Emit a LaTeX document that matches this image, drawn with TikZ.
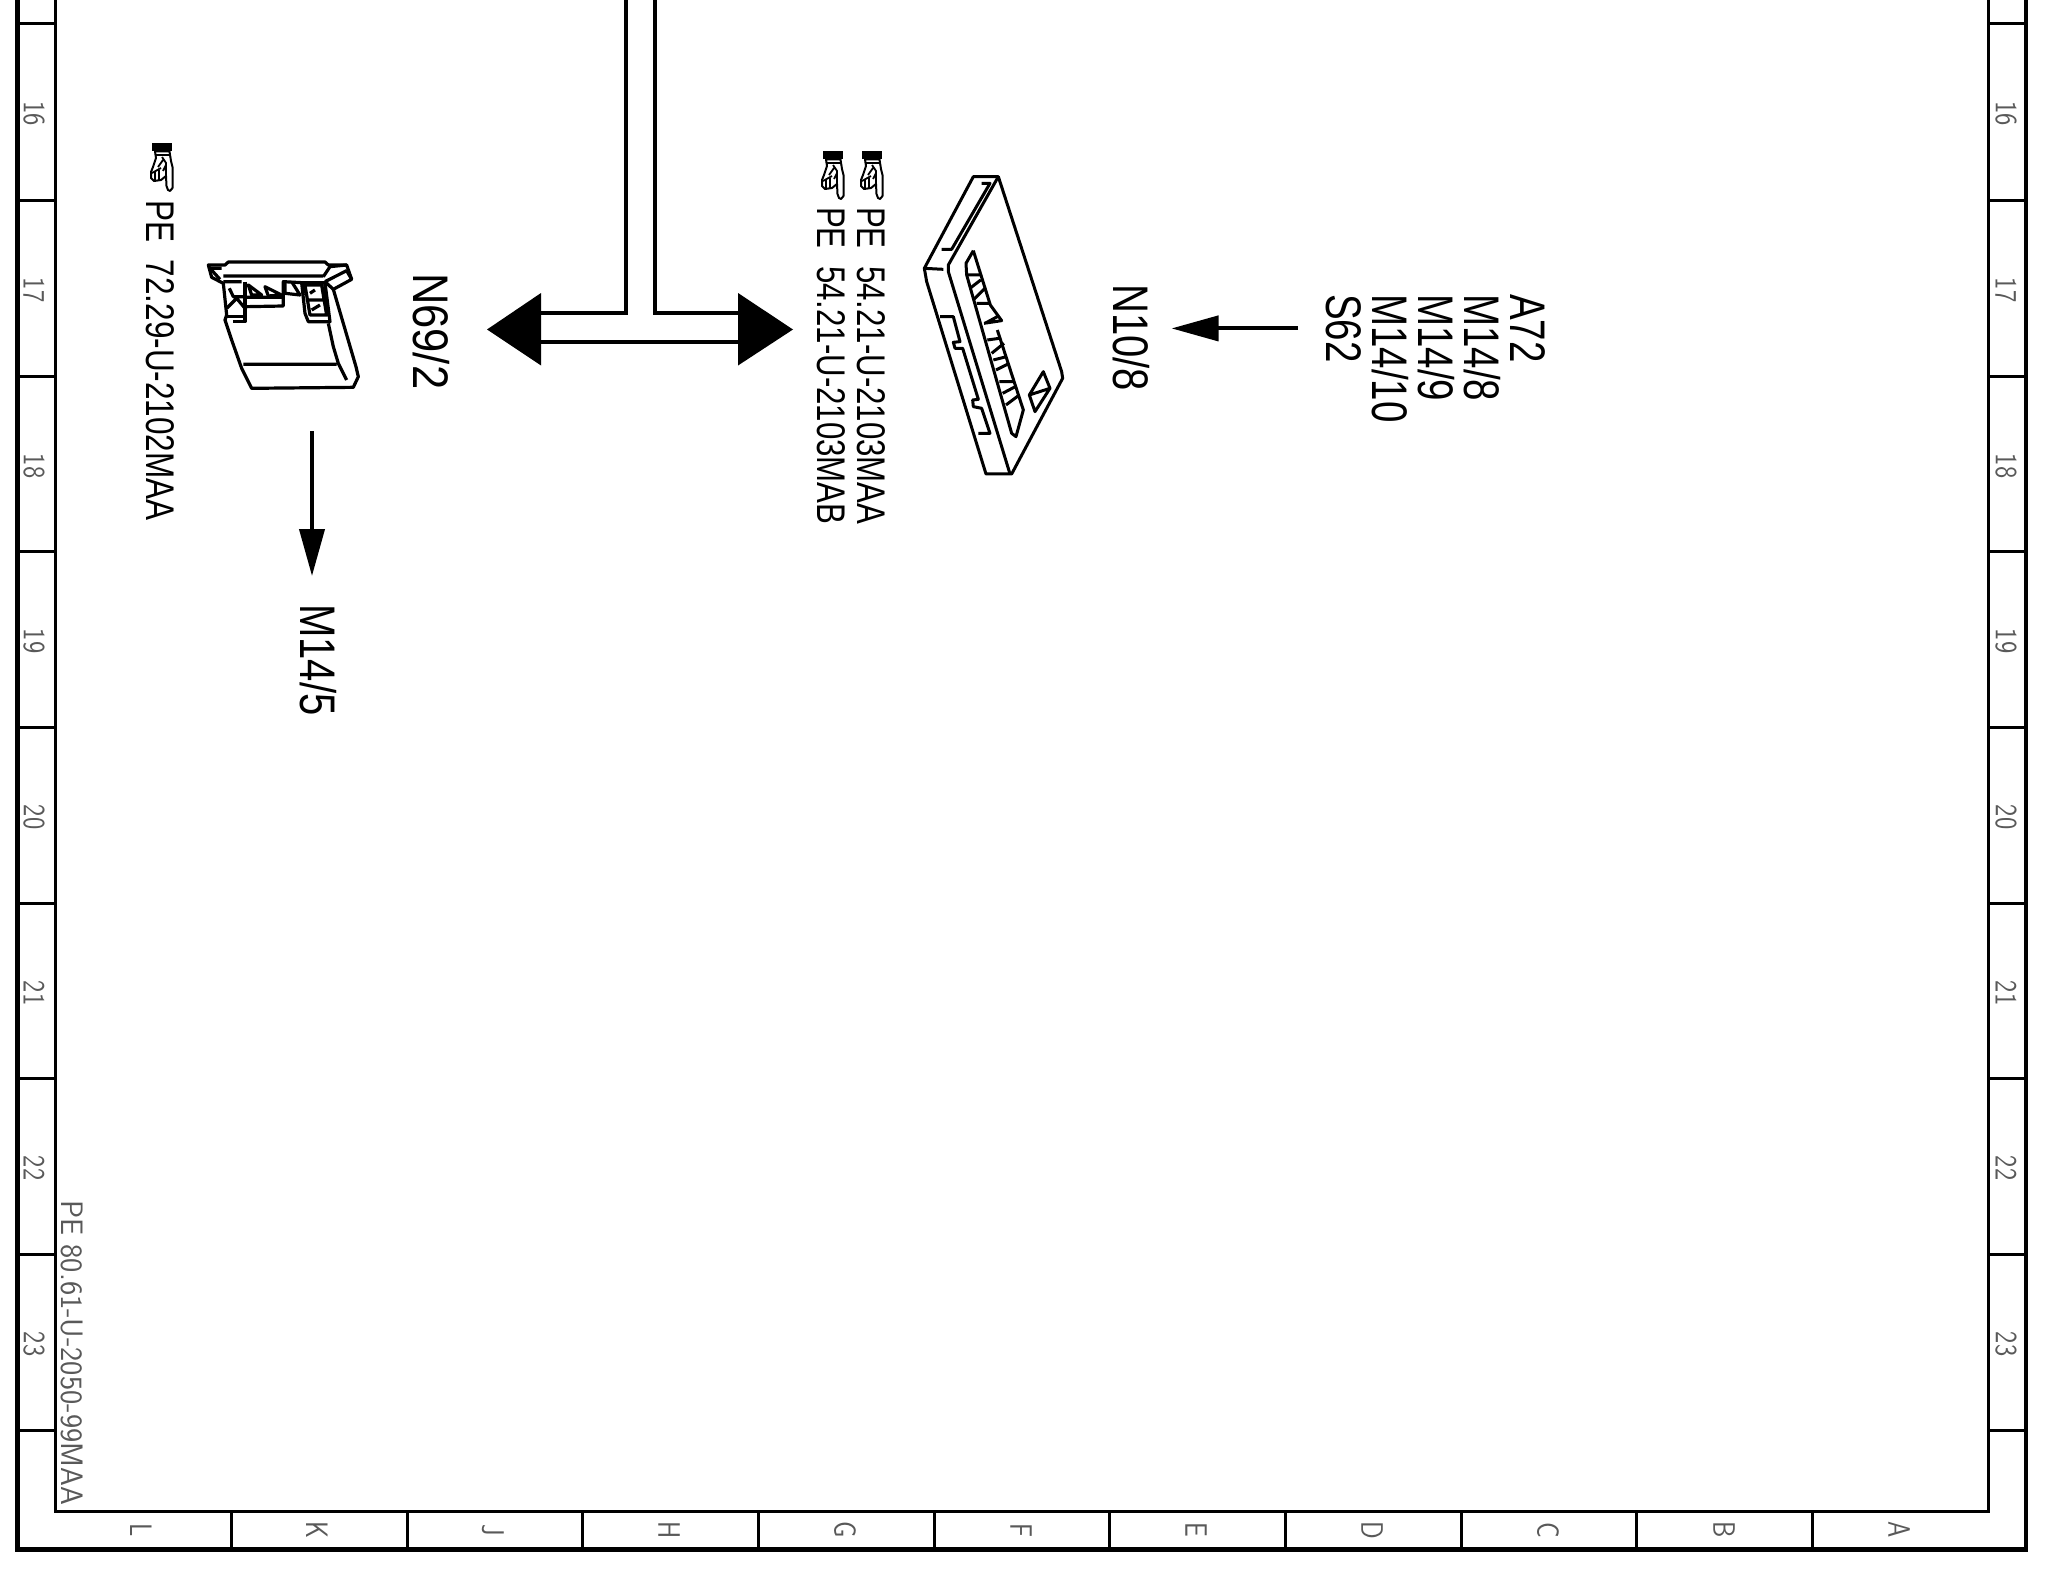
\documentclass[tikz,border=0pt]{standalone}
\usepackage{fontspec}
\setmainfont{Liberation Sans}
\usetikzlibrary{arrows.meta}
\tikzset{
  gridnum/.style={inner sep=0pt, rotate=-90, xscale=0.84, text=black!65,
    font=\sffamily\fontsize{31}{34}\selectfont},
  partlabel/.style={inner sep=0pt, anchor=west, rotate=-90, xscale=0.77,
    font=\fontsize{50}{55}\selectfont},
  pelabel/.style={inner sep=0pt, anchor=west, rotate=-90, xscale=0.78,
    font=\fontsize{40}{44}\selectfont},
  flowarrow/.style={line width=4pt, -{Triangle[length=47pt,width=25pt]}},
  handmark/.pic={
    \fill (-10.3,0) rectangle (10.3,7.7);
    \draw[line width=2pt, fill=white, line join=round] (-7,8.5) -- (7.5,8.5) -- (9,18) -- (10.5,24)
      -- (10.5,45) -- (8,48) -- (6,47) -- (4.5,43) -- (4,33) -- (-1,37) -- (-8,38)
      -- (-11,35) -- (-11,29) -- (-9,24) -- (-6,15) -- cycle;
    \draw[line width=1.8pt] (-6,12) -- (8,12) (-10,30) -- (-1,25) (-7,37) -- (-7,29)
      (-3,37) -- (-3,27) (4,33) -- (4,20) -- (0,14) (1,28) -- (4,22) (-4,24) -- (1,17);
  }
}

\begin{document}
\begin{tikzpicture}[x=1pt, y=-1pt]
\useasboundingbox (0,0) rectangle (2048,1576);

% frame
\draw[line width=4.5pt] (17.6,-5) -- (17.6,1549.5) -- (2026,1549.5) -- (2026,-5);
\draw[line width=3pt] (55,-5) -- (55,1511) -- (1988,1511) -- (1988,-5);
\draw[line width=3pt] (17.6,24) -- (55,24) (17.6,200) -- (55,200) (17.6,376) -- (55,376)
  (17.6,551) -- (55,551) (17.6,727) -- (55,727) (17.6,903) -- (55,903)
  (17.6,1078) -- (55,1078) (17.6,1254) -- (55,1254) (17.6,1430) -- (55,1430);
\draw[line width=3pt] (1988,24) -- (2026,24) (1988,200) -- (2026,200) (1988,376) -- (2026,376)
  (1988,551) -- (2026,551) (1988,727) -- (2026,727) (1988,903) -- (2026,903)
  (1988,1078) -- (2026,1078) (1988,1254) -- (2026,1254) (1988,1430) -- (2026,1430);
\draw[line width=3pt] (231,1511) -- (231,1549) (407,1511) -- (407,1549) (582,1511) -- (582,1549)
  (758,1511) -- (758,1549) (934,1511) -- (934,1549) (1109,1511) -- (1109,1549)
  (1285,1511) -- (1285,1549) (1461,1511) -- (1461,1549) (1636,1511) -- (1636,1549)
  (1812,1511) -- (1812,1549);

\node[gridnum] (rowl16) at (34,114) {16};
\node[gridnum] (rowl17) at (34,290) {17};
\node[gridnum] (rowl18) at (34,466) {18};
\node[gridnum] (rowl19) at (34,641) {19};
\node[gridnum] (rowl20) at (34,817) {20};
\node[gridnum] (rowl21) at (34,993) {21};
\node[gridnum] (rowl22) at (34,1168) {22};
\node[gridnum] (rowl23) at (34,1344) {23};
\node[gridnum] (rowr16) at (2006,114) {16};
\node[gridnum] (rowr17) at (2006,290) {17};
\node[gridnum] (rowr18) at (2006,466) {18};
\node[gridnum] (rowr19) at (2006,641) {19};
\node[gridnum] (rowr20) at (2006,817) {20};
\node[gridnum] (rowr21) at (2006,993) {21};
\node[gridnum] (rowr22) at (2006,1168) {22};
\node[gridnum] (rowr23) at (2006,1344) {23};

\node[gridnum] (colL) at (141,1530) {L};
\node[gridnum] (colK) at (317,1530) {K};
\node[gridnum] (colJ) at (493,1530) {J};
\node[gridnum] (colH) at (669,1530) {H};
\node[gridnum] (colG) at (845,1530) {G};
\node[gridnum] (colF) at (1021,1530) {F};
\node[gridnum] (colE) at (1196,1530) {E};
\node[gridnum] (colD) at (1372,1530) {D};
\node[gridnum] (colC) at (1548,1530) {C};
\node[gridnum] (colB) at (1724,1530) {B};
\node[gridnum] (colA) at (1899,1530) {A};

\node[gridnum, anchor=west, xscale=1.16] (drawno) at (72,1200) {PE 80.61-U-2050-99MAA};

% labels
\node[partlabel] (a72) at (1528,294) {A72};
\node[partlabel] (m148) at (1482,294) {M14/8};
\node[partlabel] (m149) at (1436,294) {M14/9};
\node[partlabel] (m1410) at (1390,294) {M14/10};
\node[partlabel] (s62) at (1344,294) {S62};
\node[partlabel, xscale=1.04] (n108) at (1131,284) {N10/8};
\node[partlabel, xscale=1.13] (n692) at (431,273) {N69/2};
\node[partlabel, xscale=1.04] (m145) at (318,604) {M14/5};

\node[pelabel, xscale=1.01] (pe72) at (160.5,200) {PE\ \ 72.29-U-2102MAA};
\node[pelabel] (pe54a) at (871,207) {PE\ \ 54.21-U-2103MAA};
\node[pelabel] (pe54b) at (831.5,207) {PE\ \ 54.21-U-2103MAB};
\pic at (162,143) {handmark};
\pic at (872,151) {handmark};
\pic at (833,151) {handmark};

% arrows
\coordinate (n692pin) at (312,431);
\draw[flowarrow, shorten >=28pt] (n692pin) -- (n692pin |- m145.west);
\draw[flowarrow, shorten <=28pt, shorten >=22pt] (s62.south) -- (s62.south -| n108.north);

% double line with two heads
\coordinate (tleft) at (487,329.5);
\coordinate (tright) at (793,329.5);
\draw[line width=4pt] (626,-5) -- (626,313) -- (541,313)
  (655,-5) -- (655,313) -- (738,313)
  (541,342) -- (738,342);
\fill (tleft) -- (541,293) -- (541,365.5) -- cycle;
\fill (tright) -- (738,293) -- (738,365.5) -- cycle;

% connector N69/2
\begin{scope}[shift={(190,240)}, x=0.3333pt, y=-0.3333pt, line width=3.2pt, line join=round]
\draw (55,75) -- (105,75) -- (115,66) -- (405,66) -- (415,75) -- (470,75) -- (485,118) -- (430,148)
  -- (498,380) -- (505,410) -- (490,442) -- (185,445) -- (155,385) -- (125,300) -- (105,240)
  -- (110,225) -- (100,130) -- (65,112) -- cycle;
\draw (60,85) -- (95,85) (60,85) -- (90,118) (100,108) -- (400,108);
\draw (400,110) -- (420,80) -- (470,75) (405,125) -- (470,92) -- (485,118) (405,125) -- (430,148);
\draw (100,125) -- (155,125) (118,145) -- (130,170) -- (160,170) (110,205) -- (140,175) -- (165,205);
\draw (165,125) -- (165,245) -- (130,245) (105,230) -- (165,230);
\draw (165,172) -- (280,172) -- (280,125) -- (335,128) (170,200) -- (280,198) -- (280,172);
\draw (175,135) -- (215,165) -- (185,165) -- cycle (225,140) -- (235,168) -- (275,165) -- cycle
  (285,125) -- (285,160) -- (330,165) -- (305,125);
\draw (335,128) -- (345,220) -- (355,245) -- (420,245) -- (405,128) -- cycle
  (345,135) -- (395,135) -- (410,225) -- (360,225) -- cycle (350,180) -- (400,180)
  (360,160) -- (375,150) (365,210) -- (390,195);
\draw (415,250) -- (430,320) -- (445,370) -- (470,420) (160,373) -- (440,373);
\end{scope}

% connector N10/8
\begin{scope}[shift={(910,160)}, x=0.3333pt, y=-0.3333pt, line width=3pt, line join=round]
\draw (190,50) -- (265,50) -- (455,635) -- (458,655) -- (305,942) -- (228,942) -- (50,365) -- (43,325) -- cycle;
\draw (265,50) -- (115,315) -- (115,335) -- (300,942);
\draw (43,325) -- (100,328) (215,70) -- (240,70) -- (125,268) -- (95,268);
\draw (90,470) -- (130,470) -- (150,545) -- (130,547) -- (135,565) -- (158,565) -- (205,718)
  -- (188,720) -- (190,740) -- (215,745) -- (240,820) -- (205,820);
\draw (190,272) -- (168,310) -- (170,345) -- (305,820) -- (318,830) -- (340,750) -- (262,510);
\draw (190,272) -- (241,435) -- (275,482) -- (222,490)
  (170,345) -- (215,345) (180,385) -- (212,360) (190,420) -- (225,385) (200,430) -- (240,430)
  (225,490) -- (262,470) (232,540) -- (268,535)
  (245,580) -- (282,550) (250,600) -- (290,590) (258,630) -- (298,610) (268,665) -- (310,665)
  (278,700) -- (316,680) (288,735) -- (328,705);
\draw (400,635) -- (420,685) -- (375,755) -- (358,705) -- cycle (358,705) -- (420,685);
\end{scope}
\end{tikzpicture}
\end{document}
